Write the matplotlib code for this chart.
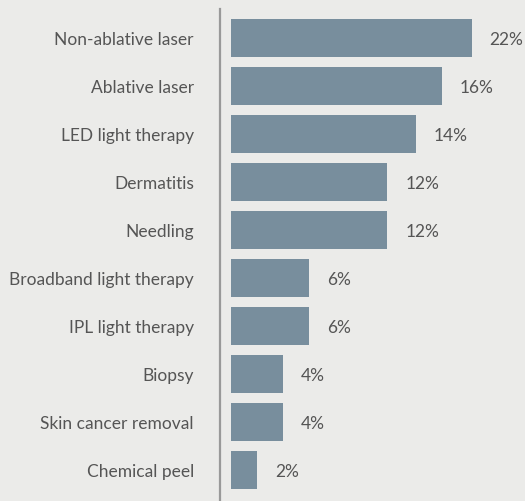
import matplotlib
matplotlib.use("Agg")
import matplotlib.pyplot as plt

# data
categories = ["Non-ablative laser", "Ablative laser", "LED light therapy", "Dermatitis",
              "Needling", "Broadband light therapy", "IPL light therapy", "Biopsy",
              "Skin cancer removal", "Chemical peel"]
bar_len = [18.5, 16.2, 14.2, 12, 12, 6, 6, 4, 4, 2]
pct = ["22%", "16%", "14%", "12%", "12%", "6%", "6%", "4%", "4%", "2%"]

bg = "#ebebe9"
bar_color = "#788e9d"
text_color = "#555555"

plt.rcParams["font.family"] = ["Lato", "DejaVu Sans"]

fig = plt.figure(figsize=(5.25, 5.02), dpi=100, facecolor=bg)
ax = fig.add_axes([220 / 525, 0, 305 / 525, 492 / 502], facecolor=bg)

ypos = list(range(len(categories)))
ax.barh(ypos, bar_len, height=38 / 48, color=bar_color)

for y, v, lab in zip(ypos, bar_len, pct):
    ax.text(v + 1.4, y + 0.03, lab, va="center", ha="left", fontsize=12.5, color=text_color)

ax.set_yticks(ypos)
ax.set_yticklabels(categories, fontsize=12.5, color=text_color)
ax.tick_params(axis="y", length=0, pad=26 * 72 / 100)
ax.set_xticks([])

ax.set_xlim(-11 / 13, (525 - 231) / 13)
ax.set_ylim(9 + 31 / 48, -29 / 48)

for s in ["top", "right", "bottom"]:
    ax.spines[s].set_visible(False)
ax.spines["left"].set_color("#999999")
ax.spines["left"].set_linewidth(1.6)

fig.savefig("out.png", dpi=100, facecolor=bg)
